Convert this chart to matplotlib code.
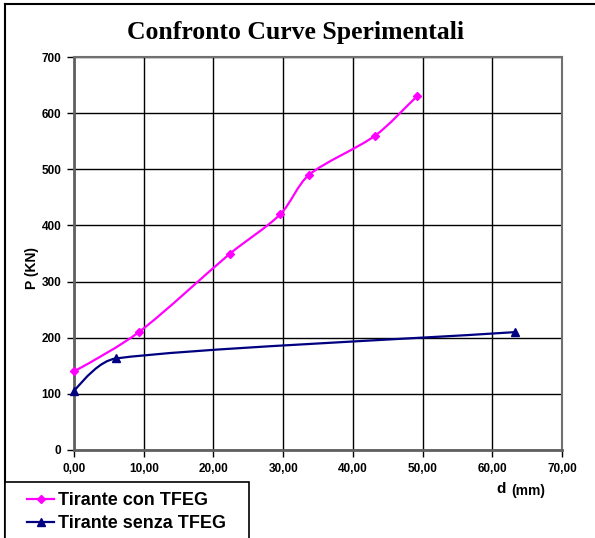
import numpy as np
import matplotlib.pyplot as plt
from matplotlib.path import Path
from matplotlib.patches import PathPatch, Rectangle
from matplotlib.lines import Line2D

# data
d_con = [0.0, 9.3, 22.4, 29.6, 33.7, 43.2, 49.2]
p_con = [140, 210, 350, 420, 490, 560, 630]
d_senza = [0.0, 6.0, 63.3]
p_senza = [105, 163, 210]

x_ticks = [0, 10, 20, 30, 40, 50, 60, 70]
y_ticks = [0, 100, 200, 300, 400, 500, 600, 700]


def unit(v):
    return v / np.linalg.norm(v)


def smooth_path(ax, x, y, t=0.3):
    # Excel-like smoothed line, tangents worked out in screen space
    pts = ax.transData.transform(np.column_stack([x, y]))
    n = len(pts)
    verts = [pts[0]]
    codes = [Path.MOVETO]
    for i in range(n - 1):
        p1, p2 = pts[i], pts[i + 1]
        L = np.linalg.norm(p2 - p1)
        if i + 2 < n:
            span = pts[i + 2] - p1
            c2 = p2 - unit(span) * min(L * t, np.linalg.norm(span) / 6)
        else:
            c2 = p2 - unit(p2 - p1) * L * t
        if i > 0:
            span = p2 - pts[i - 1]
            c1 = p1 + unit(span) * min(L * t, np.linalg.norm(span) / 6)
        else:
            c1 = p1 + unit(c2 - p1) * L * t
        verts += [c1, c2, p2]
        codes += [Path.CURVE4] * 3
    verts = ax.transData.inverted().transform(np.array(verts))
    return Path(verts, codes)


fig = plt.figure(figsize=(5.95, 5.38), dpi=100)
ax = fig.add_axes([74 / 595, 88 / 538, 488 / 595, 393 / 538])
ax.set_xlim(0, 70)
ax.set_ylim(0, 700)

ax.add_patch(PathPatch(smooth_path(ax, d_con, p_con), fill=False, ec="#FF00FF", lw=1.6, zorder=3))
ax.add_patch(PathPatch(smooth_path(ax, d_senza, p_senza), fill=False, ec="#000080", lw=1.6, zorder=3))
ax.plot(d_con, p_con, ls="none", marker="D", ms=4, color="#FF00FF", zorder=4, clip_on=False)
ax.plot(d_senza, p_senza, ls="none", marker="^", ms=6, color="#000080", zorder=4, clip_on=False)

ax.set_xticks(x_ticks)
ax.set_yticks(y_ticks)
ax.set_xticklabels([f"{v:.2f}".replace(".", ",") for v in x_ticks])
ax.grid(True, color="black", lw=1)
ax.set_axisbelow(True)
for s in ["left", "bottom"]:
    ax.spines[s].set_color("#606060")
    ax.spines[s].set_linewidth(2)
for s in ["top", "right"]:
    ax.spines[s].set_color("#707070")
    ax.spines[s].set_linewidth(1.5)
ax.tick_params(direction="out", length=5, width=1, colors="black", pad=4)
for lab in ax.get_xticklabels() + ax.get_yticklabels():
    lab.set_fontfamily("Liberation Sans")
    lab.set_fontweight("bold")
    lab.set_fontsize(8.5)

fig.text(296 / 595, 1 - 33 / 538, "Confronto Curve Sperimentali", ha="center", va="center",
         family="Liberation Serif", weight="bold", fontsize=18.5)
fig.text(32 / 595, 1 - 268 / 538, "P (KN)", rotation=90, ha="center", va="center",
         family="Liberation Sans", weight="bold", fontsize=10)
fig.text(496 / 595, 1 - 493 / 538, "d", ha="left", va="baseline",
         family="Liberation Sans", weight="bold", fontsize=11)
fig.text(511 / 595, 1 - 495 / 538, "(mm)", ha="left", va="baseline",
         family="Liberation Sans", weight="bold", fontsize=10)

# chart area frame (left and top)
fig.add_artist(Line2D([5 / 595, 5 / 595], [0, 1 - 4 / 538], transform=fig.transFigure, color="black", lw=1.5))
fig.add_artist(Line2D([5 / 595, 1], [1 - 4 / 538, 1 - 4 / 538], transform=fig.transFigure, color="black", lw=1.5))

# legend box, runs off the bottom edge
fig.add_artist(Rectangle((5 / 595, -10 / 538), 244 / 595, 66 / 538, transform=fig.transFigure,
                         fc="white", ec="black", lw=1.2, zorder=5))
handles = [
    Line2D([], [], color="#FF00FF", marker="D", ms=4, lw=1.6),
    Line2D([], [], color="#000080", marker="^", ms=6, lw=1.6),
]
leg = fig.legend(handles, ["Tirante con TFEG", "Tirante senza TFEG"], loc="upper left",
                 bbox_to_anchor=(27 / 595, 1 - 492 / 538), frameon=False,
                 prop={"family": "Liberation Sans", "weight": "bold", "size": 13},
                 handlelength=1.5, handletextpad=0.2, borderpad=0, labelspacing=0.33,
                 borderaxespad=0)
leg.set_zorder(6)

fig.savefig("out.png", dpi=100)
